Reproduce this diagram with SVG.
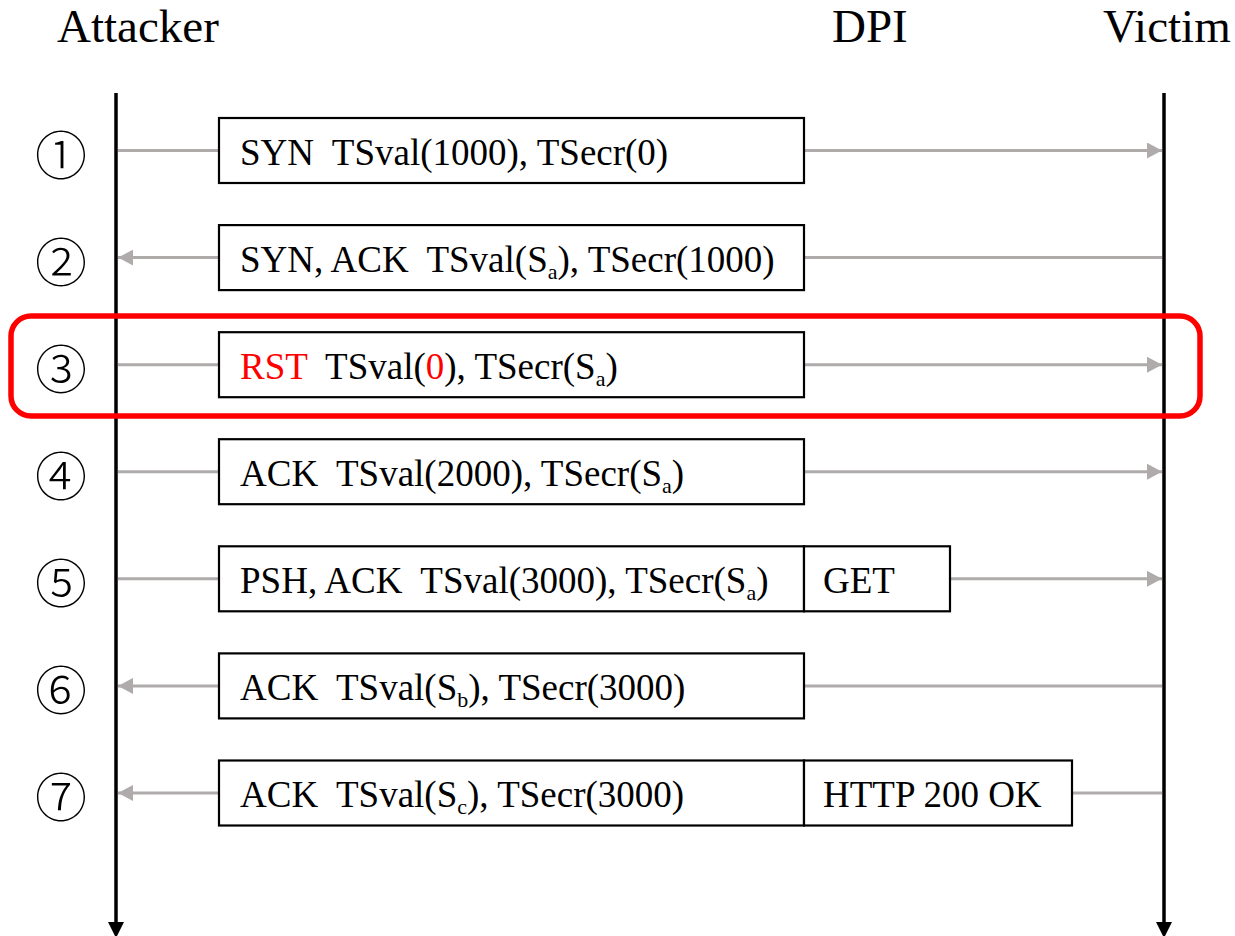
<svg xmlns="http://www.w3.org/2000/svg" width="1235" height="936" viewBox="0 0 1235 936">
<style>
.title{font-family:"Liberation Serif","Times New Roman",serif;font-size:47px;fill:#000}
.lbl{font-family:"Liberation Serif","Times New Roman",serif;font-size:37px;fill:#000}
.red{fill:#ff0000}
.num{font-family:"Noto Sans CJK JP","DejaVu Sans",sans-serif;font-size:52px;font-weight:300;fill:#000}
.box{fill:#fff;stroke:#000;stroke-width:2.2}
.life{stroke:#000;stroke-width:3.5;fill:none}
.msg{stroke:#afabab;stroke-width:3;fill:none}
.hl{fill:none;stroke:#ff0000;stroke-width:5.5}
</style>
<defs>
<marker id="ga" markerUnits="userSpaceOnUse" markerWidth="16" markerHeight="16" refX="15" refY="8" orient="auto">
<path d="M0,0 L15,8 L0,16 Z" fill="#afabab"/>
</marker>
</defs>
<rect width="1235" height="936" fill="#fff"/>
<g id="lifelines">
<text class="title" x="57" y="42">Attacker</text>
<text class="title" x="832" y="42">DPI</text>
<text class="title" x="1103" y="42">Victim</text>
<line class="life" x1="116" y1="93" x2="116" y2="922"/>
<path d="M108,922 L124,922 L116,938 Z" fill="#000"/>
<line class="life" x1="1164" y1="93" x2="1164" y2="922"/>
<path d="M1156,922 L1172,922 L1164,938 Z" fill="#000"/>
</g>
<g id="connectors">
<line class="msg" x1="118" y1="150.5" x2="219" y2="150.5"/>
<line class="msg" x1="804" y1="150.5" x2="1162" y2="150.5" marker-end="url(#ga)"/>
<line class="msg" x1="1162" y1="257.6" x2="804" y2="257.6"/>
<line class="msg" x1="219" y1="257.6" x2="118" y2="257.6" marker-end="url(#ga)"/>
<line class="msg" x1="118" y1="364.7" x2="219" y2="364.7"/>
<line class="msg" x1="804" y1="364.7" x2="1162" y2="364.7" marker-end="url(#ga)"/>
<line class="msg" x1="118" y1="471.7" x2="219" y2="471.7"/>
<line class="msg" x1="804" y1="471.7" x2="1162" y2="471.7" marker-end="url(#ga)"/>
<line class="msg" x1="118" y1="578.8" x2="219" y2="578.8"/>
<line class="msg" x1="950" y1="578.8" x2="1162" y2="578.8" marker-end="url(#ga)"/>
<line class="msg" x1="1162" y1="685.9" x2="804" y2="685.9"/>
<line class="msg" x1="219" y1="685.9" x2="118" y2="685.9" marker-end="url(#ga)"/>
<line class="msg" x1="1162" y1="793" x2="1072" y2="793"/>
<line class="msg" x1="219" y1="793" x2="118" y2="793" marker-end="url(#ga)"/>
</g>
<g id="step1">
<text class="num" x="61" y="152" text-anchor="middle" dominant-baseline="central">①</text>
<rect class="box" x="219" y="118" width="585" height="65"/>
<text class="lbl" x="240" y="164.5" xml:space="preserve">SYN  TSval(1000), TSecr(0)</text>
</g>
<g id="step2">
<text class="num" x="61" y="259.1" text-anchor="middle" dominant-baseline="central">②</text>
<rect class="box" x="219" y="225.1" width="585" height="65"/>
<text class="lbl" x="240" y="271.6" xml:space="preserve">SYN, ACK  TSval(S<tspan font-size="22" dy="7">a</tspan><tspan dy="-7">), TSecr(1000)</tspan></text>
</g>
<g id="step3">
<rect class="hl" x="11" y="316" width="1189" height="100" rx="20" ry="20"/>
<text class="num" x="61" y="366.2" text-anchor="middle" dominant-baseline="central">③</text>
<rect class="box" x="219" y="332.2" width="585" height="65"/>
<text class="lbl" x="240" y="378.7" xml:space="preserve"><tspan class="red">RST</tspan>  TSval(<tspan class="red">0</tspan>), TSecr(S<tspan font-size="22" dy="7">a</tspan><tspan dy="-7">)</tspan></text>
</g>
<g id="step4">
<text class="num" x="61" y="473.2" text-anchor="middle" dominant-baseline="central">④</text>
<rect class="box" x="219" y="439.2" width="585" height="65"/>
<text class="lbl" x="240" y="485.7" xml:space="preserve">ACK  TSval(2000), TSecr(S<tspan font-size="22" dy="7">a</tspan><tspan dy="-7">)</tspan></text>
</g>
<g id="step5">
<text class="num" x="61" y="580.3" text-anchor="middle" dominant-baseline="central">⑤</text>
<rect class="box" x="219" y="546.3" width="585" height="65"/>
<text class="lbl" x="240" y="592.8" xml:space="preserve">PSH, ACK  TSval(3000), TSecr(S<tspan font-size="22" dy="7">a</tspan><tspan dy="-7">)</tspan></text>
<rect class="box" x="804" y="546.3" width="146" height="65"/>
<text class="lbl" x="823" y="592.8">GET</text>
</g>
<g id="step6">
<text class="num" x="61" y="687.4" text-anchor="middle" dominant-baseline="central">⑥</text>
<rect class="box" x="219" y="653.4" width="585" height="65"/>
<text class="lbl" x="240" y="699.9" xml:space="preserve">ACK  TSval(S<tspan font-size="22" dy="7">b</tspan><tspan dy="-7">), TSecr(3000)</tspan></text>
</g>
<g id="step7">
<text class="num" x="61" y="794.5" text-anchor="middle" dominant-baseline="central">⑦</text>
<rect class="box" x="219" y="760.5" width="585" height="65"/>
<text class="lbl" x="240" y="807" xml:space="preserve">ACK  TSval(S<tspan font-size="22" dy="7">c</tspan><tspan dy="-7">), TSecr(3000)</tspan></text>
<rect class="box" x="804" y="760.5" width="268" height="65"/>
<text class="lbl" x="823" y="807">HTTP 200 OK</text>
</g>
</svg>
